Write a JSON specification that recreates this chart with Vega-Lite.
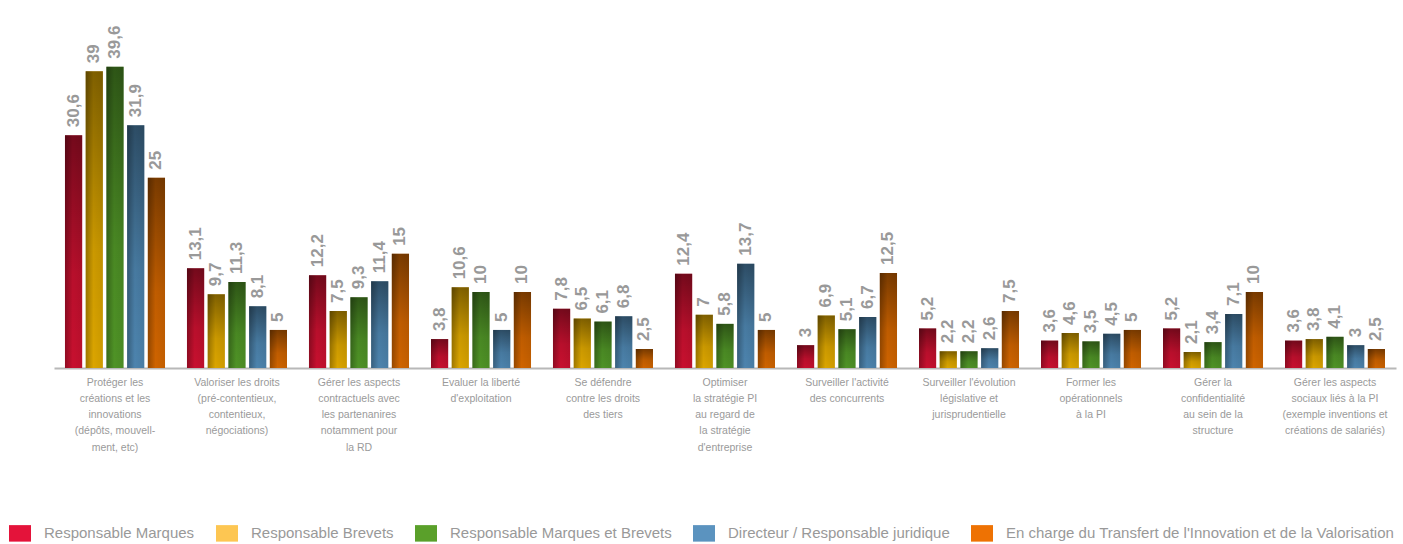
{
  "$schema": "https://vega.github.io/schema/vega-lite/v6.json",
  "width": 1342,
  "height": 312,
  "autosize": {"type": "none"},
  "padding": {"left": 54, "top": 56, "right": 7, "bottom": 176},
  "background": "white",
  "config": {
    "view": {"stroke": null},
    "locale": {"number": {"decimal": ",", "thousands": " ", "grouping": [3], "currency": ["", " €"]}}
  },
  "data": {
    "values": [
      {"cat": "Protéger les|créations et les|innovations|(dépôts, mouvell-|ment, etc)", "series": "Responsable Marques", "value": 30.6},
      {"cat": "Protéger les|créations et les|innovations|(dépôts, mouvell-|ment, etc)", "series": "Responsable Brevets", "value": 39},
      {"cat": "Protéger les|créations et les|innovations|(dépôts, mouvell-|ment, etc)", "series": "Responsable Marques et Brevets", "value": 39.6},
      {"cat": "Protéger les|créations et les|innovations|(dépôts, mouvell-|ment, etc)", "series": "Directeur / Responsable juridique", "value": 31.9},
      {"cat": "Protéger les|créations et les|innovations|(dépôts, mouvell-|ment, etc)", "series": "En charge du Transfert de l'Innovation et de la Valorisation", "value": 25},
      {"cat": "Valoriser les droits|(pré-contentieux,|contentieux,|négociations)", "series": "Responsable Marques", "value": 13.1},
      {"cat": "Valoriser les droits|(pré-contentieux,|contentieux,|négociations)", "series": "Responsable Brevets", "value": 9.7},
      {"cat": "Valoriser les droits|(pré-contentieux,|contentieux,|négociations)", "series": "Responsable Marques et Brevets", "value": 11.3},
      {"cat": "Valoriser les droits|(pré-contentieux,|contentieux,|négociations)", "series": "Directeur / Responsable juridique", "value": 8.1},
      {"cat": "Valoriser les droits|(pré-contentieux,|contentieux,|négociations)", "series": "En charge du Transfert de l'Innovation et de la Valorisation", "value": 5},
      {"cat": "Gérer les aspects|contractuels avec|les partenanires|notamment pour|la RD", "series": "Responsable Marques", "value": 12.2},
      {"cat": "Gérer les aspects|contractuels avec|les partenanires|notamment pour|la RD", "series": "Responsable Brevets", "value": 7.5},
      {"cat": "Gérer les aspects|contractuels avec|les partenanires|notamment pour|la RD", "series": "Responsable Marques et Brevets", "value": 9.3},
      {"cat": "Gérer les aspects|contractuels avec|les partenanires|notamment pour|la RD", "series": "Directeur / Responsable juridique", "value": 11.4},
      {"cat": "Gérer les aspects|contractuels avec|les partenanires|notamment pour|la RD", "series": "En charge du Transfert de l'Innovation et de la Valorisation", "value": 15},
      {"cat": "Evaluer la liberté|d'exploitation", "series": "Responsable Marques", "value": 3.8},
      {"cat": "Evaluer la liberté|d'exploitation", "series": "Responsable Brevets", "value": 10.6},
      {"cat": "Evaluer la liberté|d'exploitation", "series": "Responsable Marques et Brevets", "value": 10},
      {"cat": "Evaluer la liberté|d'exploitation", "series": "Directeur / Responsable juridique", "value": 5},
      {"cat": "Evaluer la liberté|d'exploitation", "series": "En charge du Transfert de l'Innovation et de la Valorisation", "value": 10},
      {"cat": "Se défendre|contre les droits|des tiers", "series": "Responsable Marques", "value": 7.8},
      {"cat": "Se défendre|contre les droits|des tiers", "series": "Responsable Brevets", "value": 6.5},
      {"cat": "Se défendre|contre les droits|des tiers", "series": "Responsable Marques et Brevets", "value": 6.1},
      {"cat": "Se défendre|contre les droits|des tiers", "series": "Directeur / Responsable juridique", "value": 6.8},
      {"cat": "Se défendre|contre les droits|des tiers", "series": "En charge du Transfert de l'Innovation et de la Valorisation", "value": 2.5},
      {"cat": "Optimiser|la stratégie PI|au regard de|la stratégie|d'entreprise", "series": "Responsable Marques", "value": 12.4},
      {"cat": "Optimiser|la stratégie PI|au regard de|la stratégie|d'entreprise", "series": "Responsable Brevets", "value": 7},
      {"cat": "Optimiser|la stratégie PI|au regard de|la stratégie|d'entreprise", "series": "Responsable Marques et Brevets", "value": 5.8},
      {"cat": "Optimiser|la stratégie PI|au regard de|la stratégie|d'entreprise", "series": "Directeur / Responsable juridique", "value": 13.7},
      {"cat": "Optimiser|la stratégie PI|au regard de|la stratégie|d'entreprise", "series": "En charge du Transfert de l'Innovation et de la Valorisation", "value": 5},
      {"cat": "Surveiller l'activité|des concurrents", "series": "Responsable Marques", "value": 3},
      {"cat": "Surveiller l'activité|des concurrents", "series": "Responsable Brevets", "value": 6.9},
      {"cat": "Surveiller l'activité|des concurrents", "series": "Responsable Marques et Brevets", "value": 5.1},
      {"cat": "Surveiller l'activité|des concurrents", "series": "Directeur / Responsable juridique", "value": 6.7},
      {"cat": "Surveiller l'activité|des concurrents", "series": "En charge du Transfert de l'Innovation et de la Valorisation", "value": 12.5},
      {"cat": "Surveiller l'évolution|législative et|jurisprudentielle", "series": "Responsable Marques", "value": 5.2},
      {"cat": "Surveiller l'évolution|législative et|jurisprudentielle", "series": "Responsable Brevets", "value": 2.2},
      {"cat": "Surveiller l'évolution|législative et|jurisprudentielle", "series": "Responsable Marques et Brevets", "value": 2.2},
      {"cat": "Surveiller l'évolution|législative et|jurisprudentielle", "series": "Directeur / Responsable juridique", "value": 2.6},
      {"cat": "Surveiller l'évolution|législative et|jurisprudentielle", "series": "En charge du Transfert de l'Innovation et de la Valorisation", "value": 7.5},
      {"cat": "Former les|opérationnels|à la PI", "series": "Responsable Marques", "value": 3.6},
      {"cat": "Former les|opérationnels|à la PI", "series": "Responsable Brevets", "value": 4.6},
      {"cat": "Former les|opérationnels|à la PI", "series": "Responsable Marques et Brevets", "value": 3.5},
      {"cat": "Former les|opérationnels|à la PI", "series": "Directeur / Responsable juridique", "value": 4.5},
      {"cat": "Former les|opérationnels|à la PI", "series": "En charge du Transfert de l'Innovation et de la Valorisation", "value": 5},
      {"cat": "Gérer la|confidentialité|au sein de la|structure", "series": "Responsable Marques", "value": 5.2},
      {"cat": "Gérer la|confidentialité|au sein de la|structure", "series": "Responsable Brevets", "value": 2.1},
      {"cat": "Gérer la|confidentialité|au sein de la|structure", "series": "Responsable Marques et Brevets", "value": 3.4},
      {"cat": "Gérer la|confidentialité|au sein de la|structure", "series": "Directeur / Responsable juridique", "value": 7.1},
      {"cat": "Gérer la|confidentialité|au sein de la|structure", "series": "En charge du Transfert de l'Innovation et de la Valorisation", "value": 10},
      {"cat": "Gérer les aspects|sociaux liés à la PI|(exemple inventions et|créations de salariés)", "series": "Responsable Marques", "value": 3.6},
      {"cat": "Gérer les aspects|sociaux liés à la PI|(exemple inventions et|créations de salariés)", "series": "Responsable Brevets", "value": 3.8},
      {"cat": "Gérer les aspects|sociaux liés à la PI|(exemple inventions et|créations de salariés)", "series": "Responsable Marques et Brevets", "value": 4.1},
      {"cat": "Gérer les aspects|sociaux liés à la PI|(exemple inventions et|créations de salariés)", "series": "Directeur / Responsable juridique", "value": 3},
      {"cat": "Gérer les aspects|sociaux liés à la PI|(exemple inventions et|créations de salariés)", "series": "En charge du Transfert de l'Innovation et de la Valorisation", "value": 2.5}
    ]
  },
  "encoding": {
    "x": {
      "field": "cat", "type": "nominal", "sort": null, "title": null,
      "scale": {"paddingInner": 0.18, "paddingOuter": 0.09},
      "axis": {
        "labelExpr": "split(datum.label, '|')",
        "labelAngle": 0,
        "labelFont": "Liberation Sans",
        "labelFontSize": 10.5,
        "labelLineHeight": 16.3,
        "labelColor": "#9a9a9a",
        "labelPadding": 9,
        "labelBaseline": "top",
        "labelLimit": 200,
        "ticks": false,
        "domainColor": "#b8b8b8",
        "domainWidth": 2,
        "grid": false
      }
    },
    "xOffset": {"field": "series", "type": "nominal", "sort": null, "scale": {"paddingInner": 0.17}},
    "y": {"field": "value", "type": "quantitative", "scale": {"domain": [0, 41]}, "axis": null}
  },
  "resolve": {"scale": {"color": "independent"}, "legend": {"color": "independent"}},
  "layer": [
    {
      "mark": {"type": "bar"},
      "encoding": {
        "color": {
          "field": "series", "type": "nominal", "sort": null, "legend": null,
          "scale": {
            "domain": ["Responsable Marques", "Responsable Brevets", "Responsable Marques et Brevets", "Directeur / Responsable juridique", "En charge du Transfert de l'Innovation et de la Valorisation"],
            "range": ["#c8102f", "#dba500", "#4f9326", "#4d84ae", "#cf6400"]
          }
        }
      }
    },
    {
      "mark": {"type": "bar", "opacity": 0},
      "encoding": {
        "color": {
          "field": "series", "type": "nominal", "sort": null,
          "scale": {
            "domain": ["Responsable Marques", "Responsable Brevets", "Responsable Marques et Brevets", "Directeur / Responsable juridique", "En charge du Transfert de l'Innovation et de la Valorisation"],
            "range": ["#e4133a", "#fdc652", "#5aa02a", "#5b93bf", "#ee7203"]
          },
          "legend": {
            "title": null,
            "orient": "none",
            "direction": "horizontal",
            "columns": 5,
            "legendX": -45,
            "legendY": 466,
            "symbolType": "M-1,-0.75H1V0.75H-1Z",
            "symbolSize": 484,
            "symbolStrokeWidth": 0,
            "symbolOpacity": 1,
            "labelFont": "Liberation Sans",
            "labelFontSize": 15,
            "labelColor": "#999999",
            "labelOffset": 13,
            "labelLimit": 500,
            "columnPadding": 21
          }
        }
      }
    },
    {
      "mark": {
        "type": "bar",
        "fill": {
          "gradient": "linear", "x1": 0, "y1": 0, "x2": 0, "y2": 1,
          "stops": [
            {"offset": 0, "color": "rgba(0,0,0,0.42)"},
            {"offset": 0.6, "color": "rgba(0,0,0,0.08)"},
            {"offset": 1, "color": "rgba(0,0,0,0)"}
          ]
        }
      }
    },
    {
      "mark": {
        "type": "bar",
        "fill": {
          "gradient": "linear", "x1": 0, "y1": 0, "x2": 1, "y2": 0,
          "stops": [
            {"offset": 0, "color": "rgba(0,0,0,0.28)"},
            {"offset": 0.45, "color": "rgba(0,0,0,0)"},
            {"offset": 1, "color": "rgba(0,0,0,0.06)"}
          ]
        }
      }
    },
    {
      "mark": {
        "type": "text",
        "angle": 270,
        "align": "left",
        "baseline": "middle",
        "dx": 8,
        "font": "Liberation Sans",
        "fontSize": 17,
        "fontWeight": "bold",
        "color": "#999999"
      },
      "encoding": {
        "text": {"field": "value", "type": "quantitative", "format": "~g"}
      }
    }
  ]
}
